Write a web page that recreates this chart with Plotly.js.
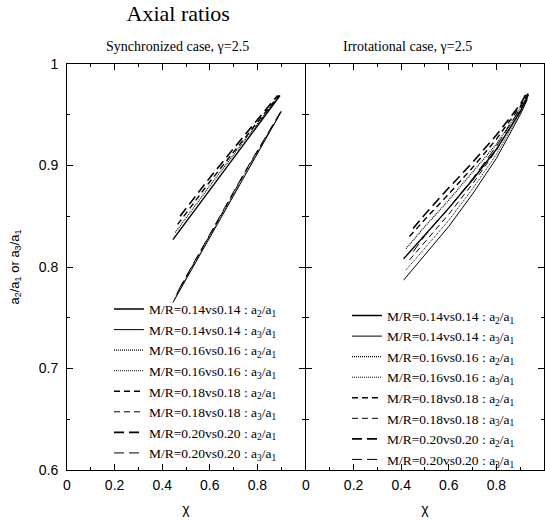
<!DOCTYPE html>
<html>
<head>
<meta charset="utf-8">
<script src="https://cdn.plot.ly/plotly-3.0.1.min.js"></script>
<style>html,body{margin:0;padding:0;background:#fff;}#chart{width:545px;height:521px;}</style>
</head>
<body>
<div id="chart"></div>
<script>
// ---- Data ----
const seriesNames = [
  'M/R=0.14vs0.14 : a<sub>2</sub>/a<sub>1</sub>',
  'M/R=0.14vs0.14 : a<sub>3</sub>/a<sub>1</sub>',
  'M/R=0.16vs0.16 : a<sub>2</sub>/a<sub>1</sub>',
  'M/R=0.16vs0.16 : a<sub>3</sub>/a<sub>1</sub>',
  'M/R=0.18vs0.18 : a<sub>2</sub>/a<sub>1</sub>',
  'M/R=0.18vs0.18 : a<sub>3</sub>/a<sub>1</sub>',
  'M/R=0.20vs0.20 : a<sub>2</sub>/a<sub>1</sub>',
  'M/R=0.20vs0.20 : a<sub>3</sub>/a<sub>1</sub>'
];

// Synchronized case
const syncChi014a2 = [0.445, 0.6, 0.75, 0.895];
const syncVal014a2 = [0.827, 0.876, 0.923, 0.969];
const syncChi014a3 = [0.445, 0.6, 0.75, 0.9];
const syncVal014a3 = [0.765, 0.829, 0.892, 0.953];
const syncChi016a2 = [0.455, 0.6, 0.75, 0.893];
const syncVal016a2 = [0.834, 0.880, 0.926, 0.969];
const syncChi016a3 = [0.45, 0.6, 0.75, 0.9];
const syncVal016a3 = [0.768, 0.830, 0.893, 0.953];
const syncChi018a2 = [0.465, 0.6, 0.75, 0.89];
const syncVal018a2 = [0.842, 0.884, 0.928, 0.969];
const syncChi018a3 = [0.46, 0.6, 0.75, 0.9];
const syncVal018a3 = [0.773, 0.831, 0.894, 0.953];
const syncChi020a2 = [0.475, 0.6, 0.75, 0.885];
const syncVal020a2 = [0.850, 0.888, 0.931, 0.969];
const syncChi020a3 = [0.47, 0.6, 0.75, 0.9];
const syncVal020a3 = [0.778, 0.833, 0.895, 0.954];

// Irrotational case
const irrChi014a2 = [0.41, 0.5, 0.6, 0.7, 0.8, 0.9, 0.935];
const irrVal014a2 = [0.808, 0.832, 0.858, 0.886, 0.916, 0.953, 0.970];
const irrChi014a3 = [0.41, 0.5, 0.6, 0.7, 0.8, 0.9, 0.93];
const irrVal014a3 = [0.787, 0.812, 0.840, 0.872, 0.907, 0.950, 0.965];
const irrChi016a2 = [0.42, 0.5, 0.6, 0.7, 0.8, 0.9, 0.935];
const irrVal016a2 = [0.818, 0.840, 0.866, 0.893, 0.921, 0.956, 0.971];
const irrChi016a3 = [0.42, 0.5, 0.6, 0.7, 0.8, 0.9, 0.93];
const irrVal016a3 = [0.797, 0.819, 0.846, 0.877, 0.911, 0.952, 0.966];
const irrChi018a2 = [0.435, 0.5, 0.6, 0.7, 0.8, 0.9, 0.935];
const irrVal018a2 = [0.830, 0.847, 0.872, 0.898, 0.926, 0.958, 0.972];
const irrChi018a3 = [0.435, 0.5, 0.6, 0.7, 0.8, 0.9, 0.93];
const irrVal018a3 = [0.807, 0.825, 0.852, 0.882, 0.915, 0.954, 0.967];
const irrChi020a2 = [0.45, 0.5, 0.6, 0.7, 0.8, 0.9, 0.93];
const irrVal020a2 = [0.838, 0.852, 0.878, 0.903, 0.930, 0.960, 0.973];
const irrChi020a3 = [0.45, 0.5, 0.6, 0.7, 0.8, 0.9, 0.925];
const irrVal020a3 = [0.815, 0.831, 0.858, 0.887, 0.919, 0.955, 0.965];

const xTickVals = [0, 0.2, 0.4, 0.6, 0.8, 1];
const xTickTextLeft = ['0', '0.2', '0.4', '0.6', '0.8', ''];
const xTickTextRight = ['0', '0.2', '0.4', '0.6', '0.8', '1'];
const yTickVals = [0.6, 0.7, 0.8, 0.9, 1];
const yTickText = ['0.6', '0.7', '0.8', '0.9', '1'];

// ---- Styles ----
const dashes = ['solid', 'solid', '1px,1px', '1px,1px', '6px,4px', '6px,4px', '10px,5px', '10px,5px'];
const widths = [1.4, 1, 1.2, 1, 1.4, 1, 1.6, 1];

const syncX = [syncChi014a2, syncChi014a3, syncChi016a2, syncChi016a3, syncChi018a2, syncChi018a3, syncChi020a2, syncChi020a3];
const syncY = [syncVal014a2, syncVal014a3, syncVal016a2, syncVal016a3, syncVal018a2, syncVal018a3, syncVal020a2, syncVal020a3];
const irrX = [irrChi014a2, irrChi014a3, irrChi016a2, irrChi016a3, irrChi018a2, irrChi018a3, irrChi020a2, irrChi020a3];
const irrY = [irrVal014a2, irrVal014a3, irrVal016a2, irrVal016a3, irrVal018a2, irrVal018a3, irrVal020a2, irrVal020a3];

const traces = [];
for (let i = 0; i < seriesNames.length; i++) {
  traces.push({
    x: syncX[i], y: syncY[i], name: seriesNames[i], type: 'scatter', mode: 'lines',
    xaxis: 'x', yaxis: 'y', legend: 'legend',
    line: {color: '#000', width: widths[i], dash: dashes[i]}
  });
}
for (let i = 0; i < seriesNames.length; i++) {
  traces.push({
    x: irrX[i], y: irrY[i], name: seriesNames[i], type: 'scatter', mode: 'lines',
    xaxis: 'x2', yaxis: 'y2', legend: 'legend2',
    line: {color: '#000', width: widths[i], dash: dashes[i]}
  });
}

const sans = 'Liberation Sans, Arial, sans-serif';
const serif = 'Liberation Serif, Times New Roman, serif';

function xAxis(domain, text, anchor) {
  return {
    domain: domain, range: [0, 1], anchor: anchor,
    tickmode: 'array', tickvals: xTickVals, ticktext: text,
    ticks: 'inside', ticklen: 6, tickwidth: 1, tickcolor: '#000',
    minor: {dtick: 0.1, tick0: 0, ticks: 'inside', ticklen: 3, tickwidth: 1, tickcolor: '#000'},
    showline: true, linecolor: '#000', linewidth: 1, mirror: 'ticks',
    showgrid: false, zeroline: false,
    tickfont: {family: sans, size: 14, color: '#000'},
    ticklabelstandoff: 2,
    title: {text: 'χ', font: {family: sans, size: 14, color: '#000'}, standoff: 12}
  };
}
function yAxis(anchor, labels) {
  return {
    domain: [0, 1], range: [0.6, 1], anchor: anchor,
    tickmode: 'array', tickvals: yTickVals, ticktext: yTickText,
    showticklabels: labels,
    ticks: 'inside', ticklen: 6, tickwidth: 1, tickcolor: '#000',
    minor: {dtick: 0.05, tick0: 0.6, ticks: 'inside', ticklen: 3, tickwidth: 1, tickcolor: '#000'},
    showline: true, linecolor: '#000', linewidth: 1, mirror: 'ticks',
    showgrid: false, zeroline: false,
    tickfont: {family: sans, size: 14, color: '#000'},
    ticklabelstandoff: 5
  };
}

const yLeft = yAxis('x', true);
yLeft.title = {text: 'a<sub>2</sub>/a<sub>1</sub> or a<sub>3</sub>/a<sub>1</sub>', font: {family: sans, size: 13, color: '#000'}, standoff: 16};
const yRight = yAxis('x2', false);

const legendCommon = {
  bgcolor: 'rgba(0,0,0,0)', borderwidth: 0,
  font: {family: serif, size: 13.5, color: '#000'},
  xanchor: 'left', yanchor: 'top', itemwidth: 30, tracegroupgap: 0
};

const layout = {
  width: 545, height: 521,
  margin: {l: 67, r: 1, t: 64, b: 51},
  paper_bgcolor: '#fff', plot_bgcolor: '#fff',
  showlegend: true,
  title: {text: 'Axial ratios', x: 0.327, xanchor: 'center', y: 0.974, yanchor: 'middle',
          font: {family: serif, size: 22, color: '#000'}},
  xaxis: xAxis([0, 0.499], xTickTextLeft, 'y'),
  yaxis: yLeft,
  xaxis2: xAxis([0.501, 1], xTickTextRight, 'y2'),
  yaxis2: yRight,
  legend: Object.assign({}, legendCommon, {x: 0.088, y: 0.434}),
  legend2: Object.assign({}, legendCommon, {x: 0.587, y: 0.418}),
  annotations: [
    {text: 'Synchronized case, γ=2.5', xref: 'paper', yref: 'paper', x: 0.2317, y: 1.042,
     xanchor: 'center', yanchor: 'middle', showarrow: false, font: {family: serif, size: 14, color: '#000'}},
    {text: 'Irrotational case, γ=2.5', xref: 'paper', yref: 'paper', x: 0.714, y: 1.042,
     xanchor: 'center', yanchor: 'middle', showarrow: false, font: {family: serif, size: 14, color: '#000'}}
  ]
};

Plotly.newPlot('chart', traces, layout, {displayModeBar: false, staticPlot: true});
</script>
</body>
</html>
